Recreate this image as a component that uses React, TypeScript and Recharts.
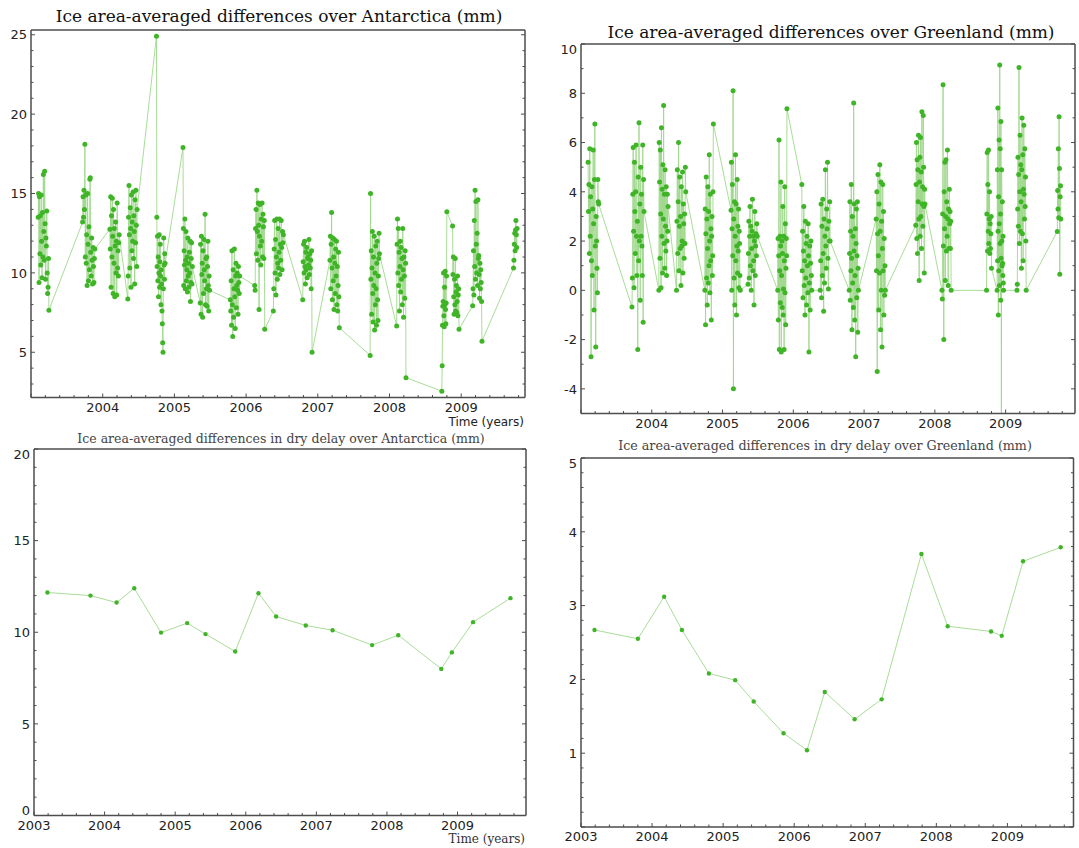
import React from "react";
import { LineChart, Line, XAxis, YAxis } from "recharts";

// ICESat-style campaign windows (decimal years); daily values are spread over each window
const campaignStart = [2003.10, 2003.72, 2004.10, 2004.35, 2004.75, 2005.12, 2005.36, 2005.78, 2006.12, 2006.38, 2006.79, 2007.17, 2007.73, 2008.10, 2008.73, 2008.88, 2009.16, 2009.73];
const campaignEnd = [2003.25, 2003.89, 2004.23, 2004.48, 2004.87, 2005.25, 2005.49, 2005.91, 2006.26, 2006.52, 2006.92, 2007.30, 2007.86, 2008.23, 2008.80, 2008.97, 2009.29, 2009.78];

// daily differences over Antarctica (mm), one list per campaign
const antarcticaDaily = [
  [13.5, 15.0, 9.4, 14.8, 11.2, 13.6, 10.5, 14.9, 12.0, 9.7, 13.8, 11.0, 16.2, 12.6, 10.8, 16.4, 13.1, 9.6, 12.2, 11.7, 13.9, 10.0, 8.7, 9.1, 10.9, 7.65],
  [13.2, 14.8, 13.5, 15.2, 14.0, 18.1, 11.0, 14.9, 10.6, 12.4, 9.2, 15.0, 11.8, 9.5, 12.9, 10.2, 15.9, 16.0, 11.3, 9.8, 12.2, 10.8, 9.3, 11.6, 10.4, 9.4, 10.9, 11.5],
  [12.75, 11.5, 14.8, 9.1, 13.6, 11.0, 14.7, 12.3, 8.7, 14.0, 10.6, 12.8, 8.5, 11.7, 13.2, 10.0, 12.0, 8.6, 14.4, 10.3, 11.4, 9.8, 11.9, 12.4],
  [8.35, 9.8, 13.5, 15.5, 12.4, 10.3, 14.1, 12.8, 9.1, 14.9, 11.4, 13.2, 12.0, 15.1, 10.9, 13.6, 12.6, 9.3, 14.6, 11.9, 15.2, 13.0, 10.4, 14.0],
  [24.9, 13.5, 10.4, 12.3, 9.5, 11.0, 8.5, 10.0, 12.4, 9.1, 10.7, 11.8, 9.8, 8.0, 10.2, 9.3, 7.6, 6.8, 5.6, 5.0, 9.0, 12.2, 10.5, 9.6, 11.2, 10.6],
  [17.9, 12.8, 9.2, 11.4, 10.5, 13.4, 9.0, 10.8, 12.6, 9.5, 10.2, 11.0, 8.8, 12.2, 9.8, 10.6, 9.1, 11.3, 10.0, 12.0, 8.2, 9.4, 10.9, 11.9, 9.3, 10.4],
  [8.1, 11.8, 7.4, 12.3, 9.9, 10.6, 7.2, 11.4, 8.7, 12.1, 10.2, 9.5, 13.7, 8.0, 10.9, 9.0, 11.0, 7.9, 10.4, 12.0, 9.2, 7.6, 9.8, 8.9],
  [8.3, 7.6, 9.5, 6.7, 11.4, 8.0, 6.0, 10.2, 7.2, 9.0, 11.5, 8.5, 6.5, 9.8, 10.6, 7.8, 9.2, 10.0, 8.9, 7.4, 10.4, 9.4, 8.7, 9.8],
  [9.2, 8.9, 12.8, 14.0, 11.2, 15.2, 12.6, 10.8, 14.4, 13.0, 7.7, 12.3, 14.3, 11.7, 10.5, 13.4, 12.0, 14.4, 11.0, 13.7, 12.9, 10.9, 13.3, 6.45],
  [7.6, 9.0, 11.5, 13.3, 10.0, 12.1, 8.6, 11.0, 13.4, 9.6, 10.6, 12.8, 10.3, 11.3, 13.4, 9.9, 11.8, 10.8, 13.3, 11.6, 10.2, 12.6, 11.9, 12.4],
  [8.3, 10.7, 11.8, 10.0, 12.0, 10.4, 9.3, 11.3, 10.2, 11.6, 9.7, 10.9, 11.0, 10.5, 12.1, 9.9, 11.2, 10.3, 10.8, 9.0, 11.4, 5.0],
  [10.8, 12.3, 9.0, 11.8, 13.8, 10.3, 8.3, 12.2, 9.5, 11.0, 7.7, 12.1, 10.6, 8.7, 11.5, 9.8, 12.0, 8.0, 10.4, 7.6, 9.2, 11.3, 8.5, 6.55],
  [4.8, 15.0, 9.6, 11.4, 7.4, 10.3, 12.6, 8.7, 6.9, 11.0, 9.2, 12.3, 6.4, 10.0, 8.0, 11.7, 9.0, 6.7, 10.6, 12.0, 8.3, 7.0, 9.8, 10.9, 12.5, 11.2],
  [6.65, 11.8, 13.4, 10.0, 12.8, 9.2, 11.3, 7.6, 10.4, 12.0, 8.8, 11.6, 9.6, 10.9, 8.0, 12.8, 10.2, 7.2, 11.0, 9.8, 8.4, 11.4, 10.6, 3.4],
  [2.55, 4.15, 6.7, 7.9, 8.2, 10.0, 7.3, 6.6, 9.1, 8.0, 10.1, 7.7, 6.8, 8.1, 9.8, 13.85],
  [12.95, 9.9, 11.0, 8.5, 7.4, 9.6, 8.0, 10.9, 7.6, 8.8, 9.2, 7.5, 8.2, 9.8, 7.3, 8.6, 9.0, 6.45],
  [7.93, 9.0, 11.4, 8.6, 13.3, 10.4, 15.2, 9.6, 14.5, 11.8, 10.0, 12.5, 9.2, 14.6, 10.9, 11.1, 9.9, 8.4, 10.6, 9.0, 10.2, 9.4, 8.2, 5.7],
  [10.3, 10.8, 11.8, 12.5, 11.4, 12.7, 13.3, 12.4, 11.6, 12.8],
];

// daily differences over Greenland (mm), one list per campaign
const greenlandDaily = [
  [5.2, 3.2, 4.3, 1.5, 5.75, 2.2, 3.8, -2.7, 1.2, 4.2, 0.6, 3.3, 5.7, 2.7, -0.8, 4.5, 6.75, 1.8, -2.3, 3.0, 2.0, 0.9, -0.1, 4.5, 3.6, 3.5],
  [-0.68, 0.5, 3.9, 5.8, 2.4, 0.1, 5.2, 3.2, 1.5, 4.0, 5.9, 2.2, 0.6, 2.8, -2.4, 4.6, 1.2, 6.8, 2.0, 3.5, -0.4, 5.0, 2.2, 3.9, 1.8, 0.6, 5.9, -1.3, 4.5, 3.2],
  [0.0, 6.0, 4.4, 1.3, 5.7, 3.1, 0.1, 6.6, 2.2, 4.1, 0.7, 5.1, 2.9, 7.5, 1.9, 3.9, 0.9, 4.9, 2.6, 1.6, 4.2, 0.6, 2.0, 3.9, 2.4, 3.4],
  [0.0, 2.8, 4.9, 1.5, 3.6, 6.0, 0.8, 2.6, 4.6, 1.7, 3.0, 0.2, 4.2, 1.8, 2.0, 4.8, 0.7, 3.5, 2.7, 1.3, 3.1, 1.9, 5.0, 4.0],
  [0.0, 3.3, -1.4, 2.3, 4.6, 0.5, 2.9, -0.6, 1.7, 4.2, 0.3, 3.2, 1.0, 5.5, 2.0, -0.1, 3.9, 1.2, 2.5, -1.2, 2.2, 3.0, 0.6, 1.4, 4.0, 6.75],
  [3.25, 5.2, 0.0, 2.5, 4.3, 1.4, 8.1, -4.0, 2.9, 0.5, 3.6, -0.6, 2.2, 5.5, 1.2, 3.5, -1.0, 1.8, 4.5, 0.7, 2.6, 1.6, 3.3, 0.1, 2.4, 1.9, 0.6, 0.0],
  [0.25, 1.5, 2.8, 0.5, 2.2, 3.4, 1.0, 2.6, 0.0, 1.7, 2.4, 3.7, 0.8, 2.2, 1.2, -0.6, 2.0, 3.2, 0.6, 1.8, 2.3, 1.4, 2.7, 2.2],
  [0.0, 2.1, -1.2, 1.4, 6.1, -2.4, 0.8, 2.2, -0.5, 1.8, 4.4, -2.5, 0.6, 2.0, -0.7, 1.5, 3.4, -1.0, 0.05, 2.2, -2.4, 1.2, 4.2, -0.1, 2.7, -1.4, 0.9, 2.1, 1.4, 7.37],
  [4.3, 0.8, 2.4, -0.3, 1.6, 3.4, 0.2, 1.2, -1.0, 2.8, 0.5, 1.9, -0.6, 2.2, 1.0, -0.1, 2.7, 1.4, -2.5, 0.3, 1.8, -0.8, 1.1, 2.0, 0.6, 0.0],
  [0.0, 1.2, 3.5, -0.3, 2.6, 0.6, 3.7, 1.5, -0.85, 2.9, 0.3, 2.2, 4.9, 1.8, 0.9, 3.3, 2.5, 5.2, 1.3, 0.05, 2.8, 2.0, 3.6, 2.0],
  [0.0, 1.5, 3.6, -0.4, 2.4, 0.8, 4.3, 1.3, -1.6, 3.0, 0.3, 2.2, -0.7, 7.6, 1.6, 3.5, -1.2, 0.6, 2.5, -2.7, 1.9, 3.3, -0.3, 1.4, 3.6, -1.7, 0.9, 0.0],
  [2.9, 0.8, 4.0, -3.3, 2.3, 4.7, 1.4, -0.8, 3.5, 0.7, 5.1, 2.4, -1.6, 4.4, 0.0, 2.8, -2.3, 1.7, 4.3, 0.8, 3.2, -1.0, 2.1, -0.2, 1.0, 0.0],
  [2.64, 4.3, 6.0, 2.1, 5.3, 1.5, 4.9, 3.6, 6.3, 2.9, 0.4, 4.4, 5.4, 2.2, 6.2, 3.0, 4.8, 1.7, 7.25, 3.5, 4.2, 2.6, 7.1, 5.0, 3.4, 0.7, 4.1, 3.5],
  [0.0, -0.35, 3.1, 8.35, 1.8, -2.0, 4.0, 2.5, 5.2, 0.4, 3.0, 5.3, 1.6, 3.6, 2.2, 5.7, 2.9, 0.2, 3.3, 1.7, 4.1, 2.7, 3.2, 1.7, 2.8, 0.0],
  [0.0, 3.1, 5.6, 1.6, 4.3, 2.4, 5.7, 1.9, 2.9, 4.0, 1.5, 2.7, 1.7, 2.3, 3.0, 0.9],
  [0.0, 4.9, 1.2, 7.4, 2.4, -1.0, 3.8, 0.8, 6.1, 2.7, 0.2, 9.15, 1.9, 5.75, 3.1, -0.4, 6.85, 1.3, -6.5, 4.9, 2.0, 1.0, 3.6, 1.1, 0.6, 2.2, 0.3, 0.0],
  [0.0, 0.25, 3.3, 5.4, 2.6, 4.7, 9.05, 1.9, 4.0, 6.3, 2.4, 5.1, 3.6, 0.9, 4.9, 7.0, 2.3, 5.5, 1.2, 4.1, 6.7, 3.9, 2.9, 5.75, 3.4, 4.6, 2.0, 0.0],
  [2.39, 4.05, 3.3, 5.75, 2.95, 7.05, 4.95, 0.65, 3.8, 4.25, 2.9],
];

// campaign means of the dry delay differences
const dryYears = [2003.19, 2003.80, 2004.17, 2004.42, 2004.80, 2005.17, 2005.43, 2005.85, 2006.18, 2006.43, 2006.85, 2007.23, 2007.79, 2008.16, 2008.77, 2008.92, 2009.22, 2009.75];
const antarcticaDry = [12.17, 12.0, 11.62, 12.4, 9.98, 10.5, 9.9, 8.95, 12.13, 10.86, 10.37, 10.11, 9.3, 9.84, 8.0, 8.9, 10.55, 11.86];
const greenlandDry = [2.67, 2.55, 3.12, 2.67, 2.08, 1.99, 1.70, 1.27, 1.04, 1.83, 1.46, 1.73, 3.70, 2.72, 2.65, 2.59, 3.60, 3.79];

const topYearLabels = [2004, 2005, 2006, 2007, 2008, 2009];
const bottomYearLabels = [2003, 2004, 2005, 2006, 2007, 2008, 2009];
const antDailyLabels = [5, 10, 15, 20, 25];
const greDailyLabels = [-4, -2, 0, 2, 4, 6, 8, 10];
const antDryLabels = [0, 5, 10, 15, 20];
const greDryLabels = [1, 2, 3, 4, 5];

const FRAME = "#4d4d4d";
const DOT = "#3fb427";
const LINE = "#9fd88c";
const SANS = "'DejaVu Sans', sans-serif";
const SERIF = "'DejaVu Serif', serif";

const steps = (from: number, to: number, step: number) => {
  const out: number[] = [];
  for (let v = from; v <= to + 1e-9; v += step) out.push(Math.round(v * 1000) / 1000);
  return out;
};

const toDaily = (campaigns: number[][]) =>
  campaigns.flatMap((vals, c) =>
    vals.map((v, i) => ({
      x: campaignStart[c] + ((campaignEnd[c] - campaignStart[c]) * i) / (vals.length - 1),
      y: v,
    }))
  );

const toDry = (vals: number[]) => dryYears.map((x, i) => ({ x, y: vals[i] }));

const near = (a: number, b: number) => Math.abs(a - b) < 1e-6;

const xTick = (side: "bottom" | "top", labels: number[]) => (p: any) => {
  const v = p.payload.value;
  const major = near(v, Math.round(v));
  const len = major ? 4 : 2.5;
  const dir = side === "bottom" ? -1 : 1;
  const show = side === "bottom" && labels.some((l) => near(l, v));
  return (
    <g>
      <line x1={p.x} x2={p.x} y1={p.y} y2={p.y + dir * len} stroke={FRAME} strokeWidth={1} />
      {show && (
        <text x={p.x} y={p.y + 14} textAnchor="middle" fontSize={13} fontFamily={SANS} fill="#222">
          {v}
        </text>
      )}
    </g>
  );
};

const yTick = (side: "left" | "right", labels: number[], majorStep: number, domain: number[]) => (p: any) => {
  const v = p.payload.value;
  const major = near(v / majorStep, Math.round(v / majorStep));
  const len = major ? 4 : 2.5;
  const dir = side === "left" ? 1 : -1;
  const show = side === "left" && labels.some((l) => near(l, v));
  let dy = 4.7;
  if (near(v, domain[1])) dy = 10;
  if (near(v, domain[0])) dy = -1;
  return (
    <g>
      <line x1={p.x} x2={p.x + dir * len} y1={p.y} y2={p.y} stroke={FRAME} strokeWidth={1} />
      {show && (
        <text x={p.x - 4} y={p.y + dy} textAnchor="end" fontSize={13} fontFamily={SANS} fill="#222">
          {v}
        </text>
      )}
    </g>
  );
};

type PanelProps = {
  box: { left: number; top: number; width: number; height: number };
  data: { x: number; y: number }[];
  xMax: number;
  xLabels: number[];
  yDomain: number[];
  yMinor: number[];
  yLabels: number[];
  yMajorStep: number;
  dotR: number;
};

function Panel({ box, data, xMax, xLabels, yDomain, yMinor, yLabels, yMajorStep, dotR }: PanelProps) {
  const padL = 45;
  const padT = 6;
  const padR = 8;
  const padB = 30;
  const xTicks = steps(2003, xMax, 0.2);
  const axisLine = { stroke: FRAME, strokeWidth: 1.5 };
  return (
    <div style={{ position: "absolute", left: box.left - padL, top: box.top - padT }}>
      <LineChart
        width={box.width + padL + padR}
        height={box.height + padT + padB}
        data={data}
        margin={{ top: padT - 1, right: padR - 1, bottom: 0, left: 0 }}
      >
        <XAxis xAxisId="b" dataKey="x" type="number" domain={[2003, xMax]} allowDataOverflow ticks={xTicks} interval={0}
          height={padB} tickSize={0} tickMargin={0} tickLine={false} axisLine={axisLine} tick={xTick("bottom", xLabels)} />
        <XAxis xAxisId="t" orientation="top" type="number" domain={[2003, xMax]} allowDataOverflow ticks={xTicks} interval={0}
          height={1} tickSize={0} tickMargin={0} tickLine={false} axisLine={axisLine} tick={xTick("top", xLabels)} />
        <YAxis yAxisId="l" type="number" domain={yDomain} allowDataOverflow ticks={yMinor} interval={0}
          width={padL} tickSize={0} tickMargin={0} tickLine={false} axisLine={axisLine} tick={yTick("left", yLabels, yMajorStep, yDomain)} />
        <YAxis yAxisId="r" orientation="right" type="number" domain={yDomain} allowDataOverflow ticks={yMinor} interval={0}
          width={1} tickSize={0} tickMargin={0} tickLine={false} axisLine={axisLine} tick={yTick("right", yLabels, yMajorStep, yDomain)} />
        <Line
          xAxisId="b"
          yAxisId="l"
          dataKey="y"
          type="linear"
          stroke={LINE}
          strokeWidth={0.9}
          dot={{ r: dotR, fill: DOT, stroke: "none" }}
          activeDot={false}
          isAnimationActive={false}
        />
      </LineChart>
    </div>
  );
}

export default function App() {
  return (
    <div style={{ position: "absolute", left: 0, top: 0, width: 1079, height: 848, background: "#fff" }}>
      <Panel
        box={{ left: 31, top: 29.5, width: 494, height: 367.5 }}
        data={toDaily(antarcticaDaily)}
        xMax={2009.89}
        xLabels={topYearLabels}
        yDomain={[2.15, 25.3]}
        yMinor={steps(3, 25, 1)}
        yLabels={antDailyLabels}
        yMajorStep={5}
        dotR={2.5}
      />
      <Panel
        box={{ left: 581, top: 43.5, width: 494, height: 369.5 }}
        data={toDaily(greenlandDaily)}
        xMax={2009.98}
        xLabels={topYearLabels}
        yDomain={[-5, 10]}
        yMinor={steps(-5, 10, 1)}
        yLabels={greDailyLabels}
        yMajorStep={2}
        dotR={2.5}
      />
      <Panel
        box={{ left: 33.5, top: 449, width: 492, height: 366.5 }}
        data={toDry(antarcticaDry)}
        xMax={2009.97}
        xLabels={bottomYearLabels}
        yDomain={[0, 20]}
        yMinor={steps(0, 20, 1)}
        yLabels={antDryLabels}
        yMajorStep={5}
        dotR={2.2}
      />
      <Panel
        box={{ left: 581, top: 458.3, width: 492.5, height: 369 }}
        data={toDry(greenlandDry)}
        xMax={2009.93}
        xLabels={bottomYearLabels}
        yDomain={[0, 5]}
        yMinor={steps(0, 5, 0.2)}
        yLabels={greDryLabels}
        yMajorStep={1}
        dotR={2.2}
      />
      <svg width={1079} height={848} style={{ position: "absolute", left: 0, top: 0, pointerEvents: "none" }}>
        <text x={279} y={22} textAnchor="middle" fontFamily={SERIF} fontSize={17} fill="#111">
          Ice area-averaged differences over Antarctica (mm)
        </text>
        <text x={831} y={38} textAnchor="middle" fontFamily={SERIF} fontSize={17} fill="#111">
          Ice area-averaged differences over Greenland (mm)
        </text>
        <text x={281} y={443} textAnchor="middle" fontFamily={SERIF} fontSize={12.5} fill="#444">
          Ice area-averaged differences in dry delay over Antarctica (mm)
        </text>
        <text x={825} y={450} textAnchor="middle" fontFamily={SERIF} fontSize={12.7} fill="#444">
          Ice area-averaged differences in dry delay over Greenland (mm)
        </text>
        <text x={524} y={426} textAnchor="end" fontFamily={SANS} fontSize={12} fill="#222">
          Time (years)
        </text>
        <text x={525} y={843} textAnchor="end" fontFamily={SERIF} fontSize={12} fill="#333">
          Time (years)
        </text>
      </svg>
    </div>
  );
}
